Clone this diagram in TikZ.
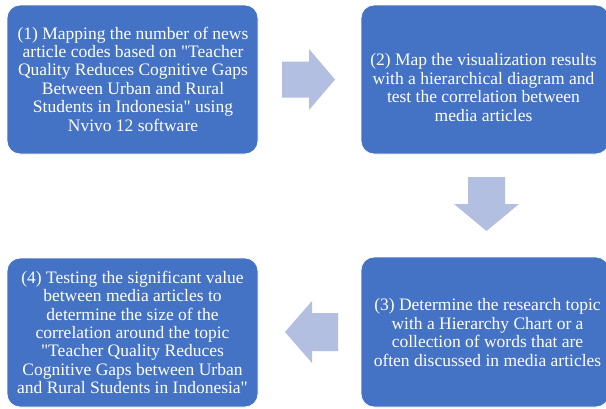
\documentclass[tikz,border=0pt]{standalone}
\usepackage{fontspec}
\setmainfont[Ligatures=TeXOff]{Liberation Serif}
\definecolor{boxblue}{RGB}{68,114,196}
\definecolor{arrowblue}{RGB}{178,191,225}
\begin{document}
\begin{tikzpicture}[x=1pt,y=-1pt,
  box/.style={draw=white, line width=0.8pt, fill=boxblue, rounded corners=13pt, inner sep=0pt},
  txt/.style={text=white, align=center, font=\fontsize{17.5}{18.4}\selectfont, inner sep=0pt},
  blockarrow/.style={fill=arrowblue, draw=none}]
\useasboundingbox (0,0) rectangle (606,408);
\fill[white] (0,0) rectangle (606,408);
\begin{scope}
\clip (0,0) rectangle (606,408);
\node[box, minimum width=251pt, minimum height=149pt] (b1) at (132.5,79.5) {};
\node[box, minimum width=248pt, minimum height=149pt] (b2) at (485,79.5) {};
\node[box, minimum width=248pt, minimum height=150pt] (b3) at (485,332) {};
\node[box, minimum width=251pt, minimum height=149pt] (b4) at (132.5,332.5) {};
\end{scope}
\node[txt] (t1) at (133,79) {(1) Mapping the number of news\\article codes based on "Teacher\\Quality Reduces Cognitive Gaps\\Between Urban and Rural\\Students in Indonesia" using\\Nvivo 12 software};
\node[txt] (t2) at (483.5,87.5) {(2) Map the visualization results\\with a hierarchical diagram and\\test the correlation between\\media articles};
\node[txt] (t3) at (487.5,332.5) {(3) Determine the research topic\\with a Hierarchy Chart or a\\collection of words that are\\often discussed in media articles};
\node[txt] (t4) at (132.5,332.5) {(4) Testing the significant value\\between media articles to\\determine the size of the\\correlation around the topic\\"Teacher Quality Reduces\\Cognitive Gaps between Urban\\and Rural Students in Indonesia"};
% block arrows
\fill[blockarrow] (282,61.5) -- (309,61.5) -- (309,49) -- (335,79.5) -- (309,110) -- (309,97.5) -- (282,97.5) -- cycle;
\fill[blockarrow] (468,177) -- (505,177) -- (505,204) -- (519,204) -- (486.5,231) -- (454,204) -- (468,204) -- cycle;
\fill[blockarrow] (338,313) -- (312,313) -- (312,301) -- (285,332) -- (312,363) -- (312,351) -- (338,351) -- cycle;
\end{tikzpicture}
\end{document}
